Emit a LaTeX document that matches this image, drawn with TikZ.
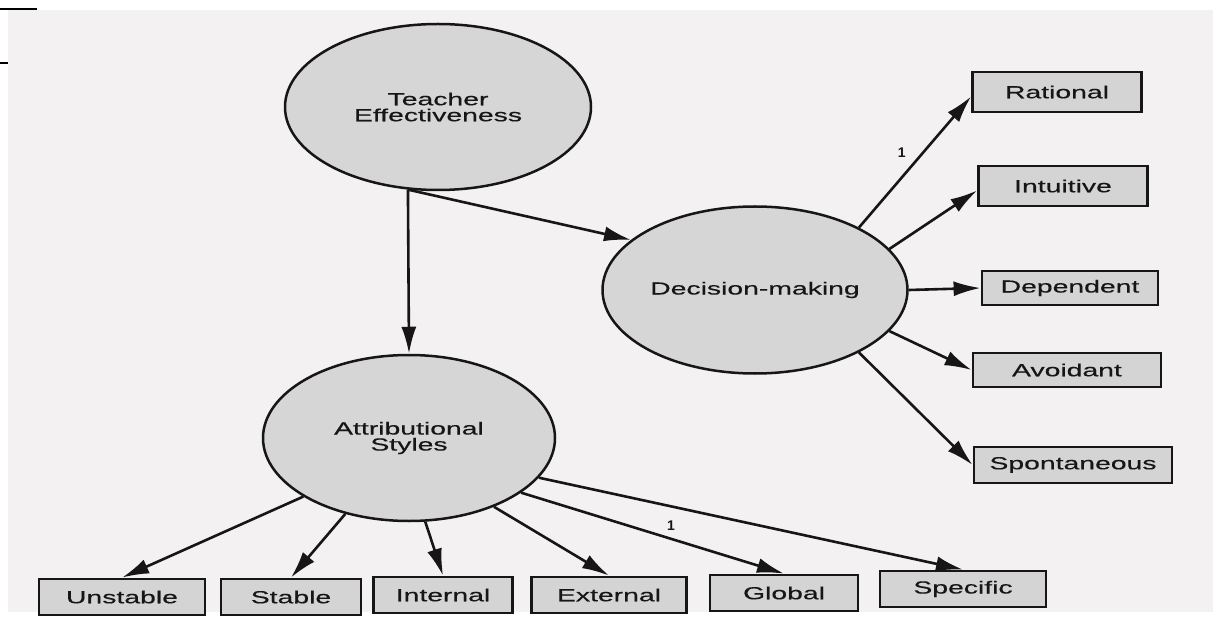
\documentclass[tikz,border=0pt]{standalone}
\usepackage{fontspec}
\setmainfont{Liberation Sans}
\newfontfamily\widefont[FakeStretch=1.62, FakeBold=0.4]{Liberation Sans}
\usetikzlibrary{positioning, calc, shapes.geometric, arrows.meta}
\definecolor{paper}{HTML}{F3F1F2}
\definecolor{latent}{HTML}{D7D6D7}
\definecolor{observed}{HTML}{D5D4D5}
\definecolor{ink}{HTML}{161616}
\newcommand{\semfont}{\widefont\fontsize{17.5}{16}\selectfont}
\tikzstyle{Arrow} = [
line width=2.6pt, color=ink,
-{Latex[length=27pt,width=15pt]}]
\tikzstyle{Latent} = [ellipse, draw=ink, line width=2.5pt, fill=latent,
        text=ink, align=center, inner sep=0pt, font=\semfont]
\tikzstyle{Indicator} = [rectangle, draw=ink, line width=2.8pt, fill=observed,
        text=ink, inner sep=0pt, font=\semfont]
\tikzstyle{Loading} = [inner sep=0pt, text=ink, font=\fontsize{14}{14}\selectfont\bfseries]

\begin{document}
\begin{tikzpicture}[x=1pt, y=-1pt]
    \useasboundingbox (0,0) rectangle (1217,617);
    \fill[white] (0,0) rectangle (1217,617);
    \fill[paper] (8,10) rectangle (1213,612);
    \draw[line width=2.4pt] (0,9) -- (37,9);
    \draw[line width=2.4pt] (0,63) -- (8,63);
    \node[Latent, minimum width=306pt, minimum height=166pt] (1) at (438,107) {Teacher\\Effectiveness};
    \node[Latent, minimum width=305pt, minimum height=167pt] (2) at (755,290) {Decision-making};
    \node[Latent, minimum width=292pt, minimum height=166pt] (3) at (409,438) {Attributional\\Styles};
    \node[Indicator, minimum width=169pt, minimum height=40pt] (4) at (1057,92) {Rational};
    \node[Indicator, minimum width=169pt, minimum height=40pt] (5) at (1063,186) {Intuitive};
    \node[Indicator, minimum width=176pt, minimum height=34pt] (6) at (1070,288) {Dependent};
    \node[Indicator, minimum width=188pt, minimum height=34pt] (7) at (1067,370) {Avoidant};
    \node[Indicator, minimum width=198pt, minimum height=36pt] (8) at (1073,465) {Spontaneous};
    \node[Indicator, minimum width=166pt, minimum height=36pt] (9) at (122,597) {Unstable};
    \node[Indicator, minimum width=140pt, minimum height=36pt] (10) at (291,597) {Stable};
    \node[Indicator, minimum width=139pt, minimum height=36pt] (11) at (443,595) {Internal};
    \node[Indicator, minimum width=155pt, minimum height=36pt] (12) at (609,595) {External};
    \node[Indicator, minimum width=148pt, minimum height=36pt] (13) at (784,593) {Global};
    \node[Indicator, minimum width=166pt, minimum height=36pt] (14) at (963,589) {Specific};
    \draw[Arrow] (1.-110) -- (3.north);
    \draw[Arrow] (1.-110) -- (2.158);
    \draw[Arrow] (2.31) -- node[Loading, pos=0.57, left=16pt] {1} (4.183);
    \draw[Arrow] (2.17) -- (5.183);
    \draw[Arrow] (2.east) -- (6.west);
    \draw[Arrow] (2.-17) -- (7.west);
    \draw[Arrow] (2.-31) -- (8.west);
    \draw[Arrow] (3.-151) -- (9.north);
    \draw[Arrow] (3.-130) -- (10.north);
    \draw[Arrow] (3.-79) -- (11.north);
    \draw[Arrow] (3.-39) -- (12.north);
    \draw[Arrow] (3.-26) -- node[Loading, pos=0.57, above=7pt] {1} (13.north);
    \draw[Arrow] (3.-17) -- (14.north);
\end{tikzpicture}
\end{document}
